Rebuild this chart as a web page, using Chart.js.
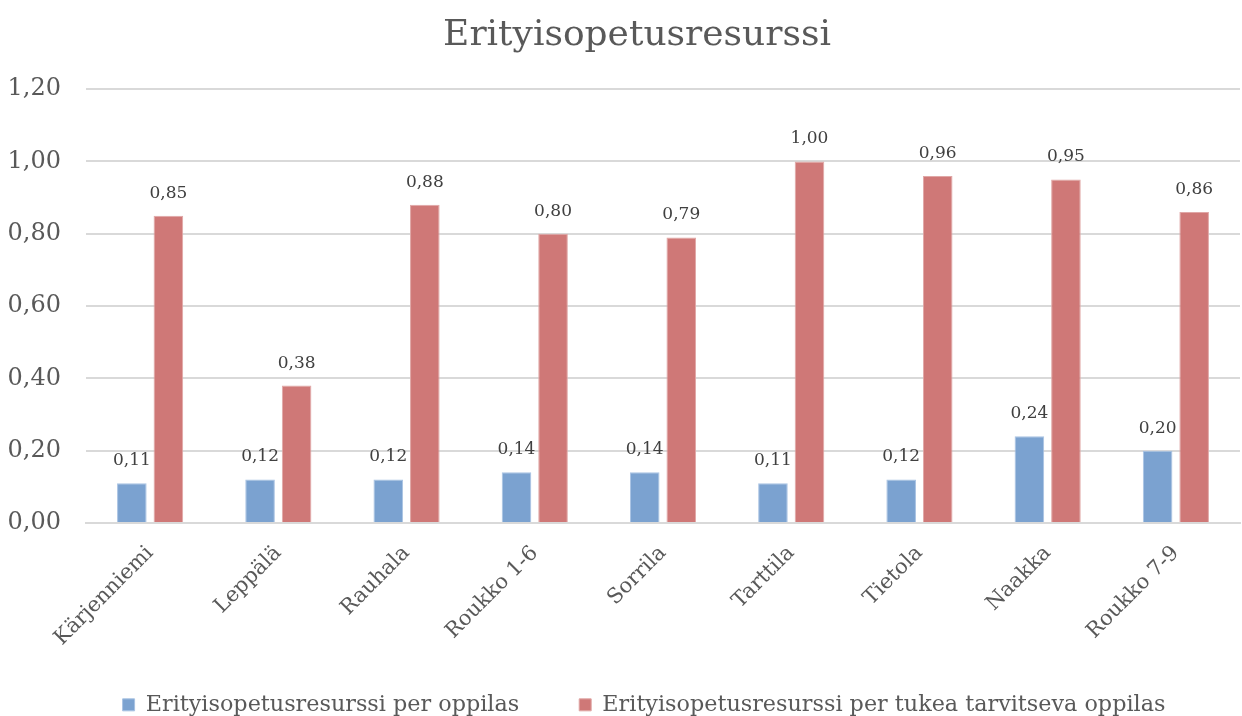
<!DOCTYPE html>
<html>
<head>
<meta charset="utf-8">
<script src="https://cdn.jsdelivr.net/npm/chart.js@4"></script>
<style>
  html, body { margin: 0; padding: 0; background: #fff; }
  #wrap { width: 1242px; height: 716px; }
</style>
</head>
<body>
<div id="wrap"><canvas id="chart"></canvas></div>
<script>
// Chart data
const schools = ['Kärjenniemi', 'Leppälä', 'Rauhala', 'Roukko 1-6', 'Sorrila', 'Tarttila', 'Tietola', 'Naakka', 'Roukko 7-9'];
const perStudent = [0.11, 0.12, 0.12, 0.14, 0.14, 0.11, 0.12, 0.24, 0.20];
const perSupportStudent = [0.85, 0.38, 0.88, 0.80, 0.79, 1.00, 0.96, 0.95, 0.86];
const seriesNames = ['Erityisopetusresurssi per oppilas', 'Erityisopetusresurssi per tukea tarvitseva oppilas'];

const FONT = "'DejaVu Serif', serif";
const TEXT = '#595959';

function fmt(v) {
    return v.toFixed(2).replace('.', ',');
}

// Draw value labels above the bars
const valueLabels = {
    id: 'valueLabels',
    afterDatasetsDraw(chart) {
        const ctx = chart.ctx;
        ctx.save();
        ctx.font = '17px ' + FONT;
        ctx.fillStyle = '#404040';
        ctx.textAlign = 'center';
        ctx.textBaseline = 'bottom';
        chart.data.datasets.forEach((ds, i) => {
            chart.getDatasetMeta(i).data.forEach((bar, j) => {
                ctx.fillText(fmt(ds.data[j]), bar.x, bar.y - 14);
            });
        });
        ctx.restore();
    }
};

// Title and legend sit a bit right of the canvas centre in the original
const nudge = {
    id: 'nudge',
    afterLayout(chart) {
        chart.legend.left += 20;
        chart.legend.right += 20;
        chart.titleBlock.left += 13;
        chart.titleBlock.right += 13;
        // x labels are clipped to the scale box, give back the trimmed height
        chart.scales.x.bottom += 27;
    }
};

const ctx = document.getElementById('chart').getContext('2d');
new Chart(ctx, {
    type: 'bar',
    data: {
        labels: schools,
        datasets: [
            {
                label: seriesNames[0],
                data: perStudent,
                backgroundColor: '#7ba2d0',
                borderColor: '#a9c3e3',
                borderWidth: 1
            },
            {
                label: seriesNames[1],
                data: perSupportStudent,
                backgroundColor: '#cf7877',
                borderColor: '#e0a7a6',
                borderWidth: 1
            }
        ]
    },
    options: {
        responsive: true,
        maintainAspectRatio: false,
        animation: false,
        datasets: {
            bar: {
                categoryPercentage: 0.57,
                barPercentage: 0.81
            }
        },
        layout: {
            padding: { left: 8, right: 2, top: 4, bottom: -10 }
        },
        plugins: {
            title: {
                display: true,
                text: 'Erityisopetusresurssi',
                color: TEXT,
                font: { family: FONT, size: 36, weight: 'normal' },
                padding: { top: 10, bottom: 32 }
            },
            legend: {
                position: 'bottom',
                labels: {
                    color: TEXT,
                    font: { family: FONT, size: 22.3 },
                    boxWidth: 12,
                    boxHeight: 12,
                    padding: 60,
                    useBorderRadius: false
                }
            },
            tooltip: { enabled: false }
        },
        scales: {
            x: {
                grid: { display: false },
                border: { color: '#d9d9d9', width: 2 },
                ticks: {
                    color: TEXT,
                    font: { family: FONT, size: 21 },
                    minRotation: 45,
                    maxRotation: 45,
                    padding: 10
                },
                // keep the plot edges where the original has them
                afterFit: scale => {
                    scale.paddingLeft = 0;
                    scale.height -= 27;
                }
            },
            y: {
                min: 0,
                max: 1.2,
                grid: { color: '#d9d9d9', lineWidth: 2, drawTicks: false },
                border: { display: false },
                ticks: {
                    stepSize: 0.2,
                    color: TEXT,
                    font: { family: FONT, size: 24 },
                    padding: 25,
                    callback: v => fmt(v)
                },
                afterFit: scale => { scale.width = 78; }
            }
        }
    },
    plugins: [valueLabels, nudge]
});
</script>
</body>
</html>
